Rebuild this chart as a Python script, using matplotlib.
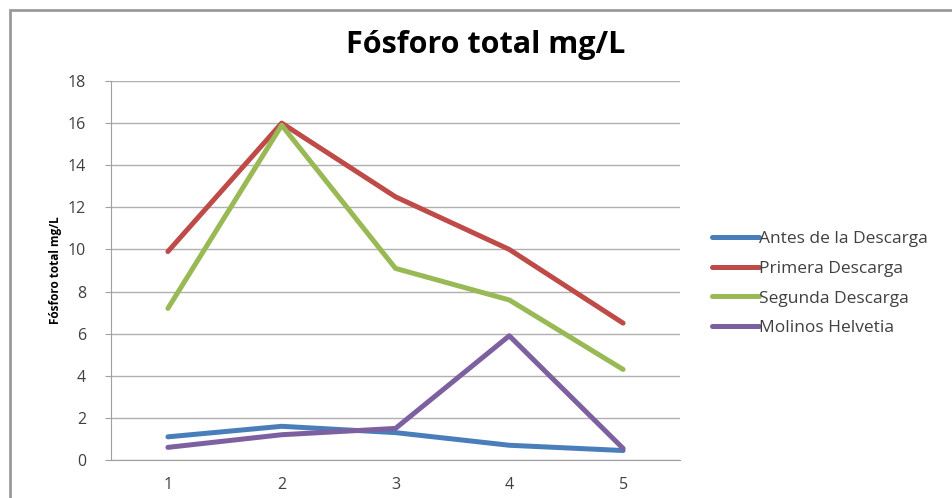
import matplotlib
matplotlib.use("Agg")
import matplotlib.pyplot as plt
from matplotlib.patches import Rectangle

# datos
puntos = [1, 2, 3, 4, 5]
antes = [1.1, 1.6, 1.3, 0.7, 0.45]
primera = [9.9, 16.0, 12.5, 10.0, 6.5]
segunda = [7.2, 15.9, 9.1, 7.6, 4.3]
molinos = [0.6, 1.2, 1.5, 5.9, 0.55]
nombres = ["Antes de la Descarga", "Primera Descarga", "Segunda Descarga", "Molinos Helvetia"]
colores = ["#4A7EBB", "#BE4B48", "#98B954", "#7D60A0"]

plt.rcParams["font.family"] = ["Open Sans", "DejaVu Sans"]

fig = plt.figure(figsize=(9.52, 4.98), dpi=100)
fig.patches.append(Rectangle((10 / 952, -0.1), 1.2, 1 - 10 / 498 + 0.1,
                             transform=fig.transFigure, fill=False,
                             edgecolor="#9a9a9a", linewidth=2))
ax = fig.add_axes([111 / 952, 1 - 460 / 498, (680 - 111) / 952, (460 - 81) / 498])

for serie, nombre, color in zip([antes, primera, segunda, molinos], nombres, colores):
    ax.plot(puntos, serie, color=color, linewidth=3.6, label=nombre,
            solid_capstyle="round", solid_joinstyle="round")

ax.set_xlim(0.5, 5.5)
ax.set_ylim(0, 18)
ax.set_yticks(range(0, 19, 2))
ax.set_xticks(puntos)
ax.grid(axis="y", color="#b0b0b0", linewidth=1)
ax.set_axisbelow(True)
for lado in ["top", "right"]:
    ax.spines[lado].set_visible(False)
ax.spines["left"].set_color("#a0a0a0")
ax.spines["bottom"].set_color("#a0a0a0")
ax.tick_params(axis="y", length=4, color="#a0a0a0", labelcolor="#404040", labelsize=11.5, pad=14)
ax.tick_params(axis="x", length=0, labelcolor="#404040", labelsize=11.5, pad=12)

ax.set_ylabel("Fósforo total mg/L", fontsize=8.5, fontweight="bold", labelpad=4)
fig.text(486 / 952, 1 - 45 / 498, "Fósforo total mg/L", ha="center", va="center",
         fontsize=22, fontweight="bold")

fig.legend(loc="upper left", bbox_to_anchor=(696 / 952, 1 - 215 / 498), frameon=False,
           fontsize=12.5, handlelength=2.7, handletextpad=0.05, labelspacing=0.79,
           labelcolor="#404040")

fig.savefig("out.png", dpi=100)
